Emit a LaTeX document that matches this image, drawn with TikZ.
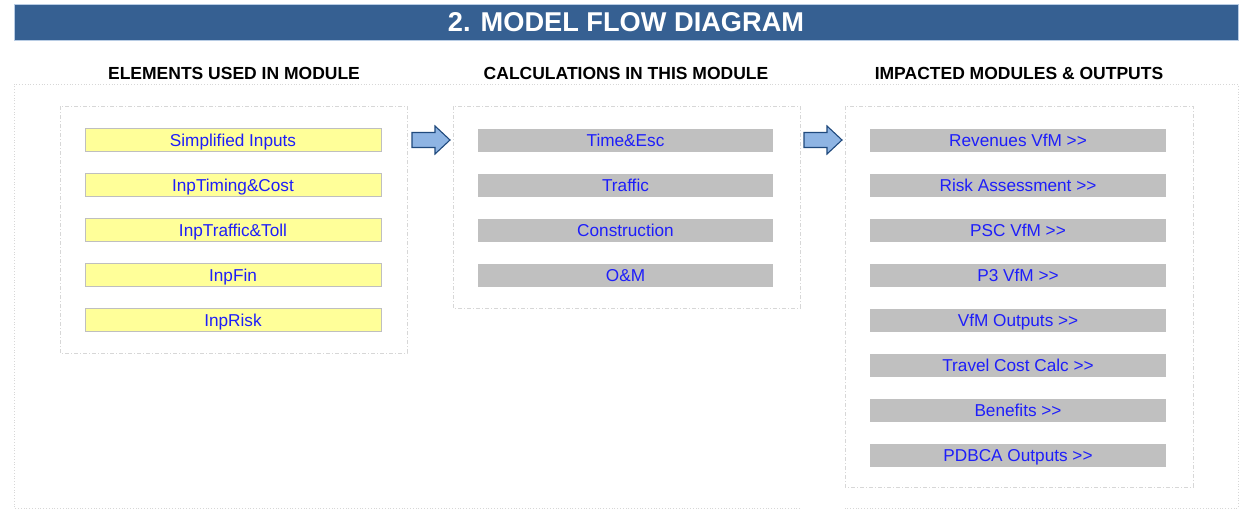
\documentclass[tikz,border=0pt]{standalone}
\usepackage{fontspec}
\setmainfont{Liberation Sans}
\definecolor{titlebg}{RGB}{54,96,146}
\definecolor{titleedge}{RGB}{184,204,228}
\definecolor{inyellow}{RGB}{255,255,153}
\definecolor{boxedge}{RGB}{191,191,191}
\definecolor{calcgray}{RGB}{192,192,192}
\definecolor{linkblue}{RGB}{30,30,250}
\definecolor{arrowfill}{RGB}{142,180,227}
\definecolor{arrowedge}{RGB}{31,73,125}
\definecolor{framegray}{RGB}{215,215,215}
% two separate ">" signs, kept apart so they are not merged into a guillemet
\newcommand{\goon}{>\kern0pt>}
\begin{document}
\begin{tikzpicture}[x=1pt,y=-1pt,
  header/.style={font=\fontsize{17.5}{20}\selectfont\bfseries, text=black, inner sep=0pt},
  item/.style={minimum width=296pt, minimum height=23pt, inner sep=0pt,
    text height=14pt, text depth=2pt,
    font=\fontsize{17.2}{19}\selectfont, text=linkblue},
  inputbox/.style={item, fill=inyellow, draw=boxedge, line width=0.9pt},
  calcbox/.style={item, fill=calcgray},
  group/.style={draw=framegray, line width=0.8pt, dash pattern=on 4pt off 2pt on 1pt off 2pt},
  blockarrow/.style={fill=arrowfill, draw=arrowedge, line width=1.1pt, line join=miter}
]
\useasboundingbox (0,0) rectangle (1239,514);
\fill[white] (0,0) rectangle (1239,514);

% title bar
\node[fill=titlebg, draw=titleedge, line width=0.8pt, minimum width=1224pt, minimum height=36pt,
  inner sep=0pt, font=\fontsize{27.2}{30}\selectfont\bfseries, text=white] (title) at (626,22.5)
  {2. MODEL FLOW DIAGRAM};

% column headers
\node[header] (h1) at (234,73) {ELEMENTS USED IN MODULE};
\node[header] (h2) at (626,73) {CALCULATIONS IN THIS MODULE};
\node[header] (h3) at (1019,73) {IMPACTED MODULES \& OUTPUTS};

% outer frame
\draw[framegray, line width=0.8pt, dotted] (800,508) -- (14,508) -- (14,84) -- (1238,84) -- (1238,508) -- (845,508);

% group frames
\draw[group] (60,106) rectangle (407,353);
\draw[group] (453,106) rectangle (800,308);
\draw[group] (845,106) rectangle (1193,487);

% inputs
\node[inputbox] (in1) at (233,140) {Simplified Inputs};
\node[inputbox] (in2) at (233,185) {InpTiming\&Cost};
\node[inputbox] (in3) at (233,230) {InpTraffic\&Toll};
\node[inputbox] (in4) at (233,275) {InpFin};
\node[inputbox] (in5) at (233,320) {InpRisk};

% calculations
\node[calcbox, minimum width=295pt] (c1) at (625.5,140) {Time\&Esc};
\node[calcbox, minimum width=295pt] (c2) at (625.5,185) {Traffic};
\node[calcbox, minimum width=295pt] (c3) at (625.5,230) {Construction};
\node[calcbox, minimum width=295pt] (c4) at (625.5,275) {O\&M};

% outputs
\node[calcbox] (o1) at (1018,140) {Revenues VfM \goon};
\node[calcbox] (o2) at (1018,185) {Risk Assessment \goon};
\node[calcbox] (o3) at (1018,230) {PSC VfM \goon};
\node[calcbox] (o4) at (1018,275) {P3 VfM \goon};
\node[calcbox] (o5) at (1018,320) {VfM Outputs \goon};
\node[calcbox] (o6) at (1018,365) {Travel Cost Calc \goon};
\node[calcbox] (o7) at (1018,410) {Benefits \goon};
\node[calcbox] (o8) at (1018,455) {PDBCA Outputs \goon};

% block arrows between the columns
\coordinate (a1) at (412,140);
\coordinate (a2) at (804,140);
\foreach \a in {a1,a2}{
  \draw[blockarrow] (\a) ++(0,-7.5) -- ++(23,0) -- ++(0,-6.5) -- ++(15,14) -- ++(-15,14)
    -- ++(0,-6.5) -- ++(-23,0) -- cycle;
}
\end{tikzpicture}
\end{document}
